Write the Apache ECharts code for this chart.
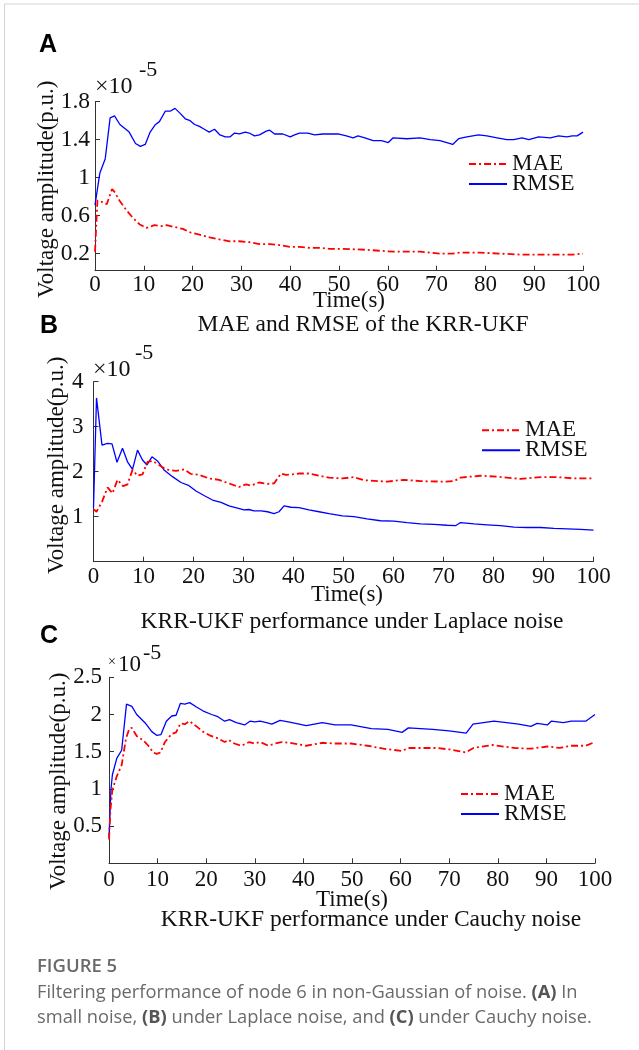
<!DOCTYPE html>
<html><head><meta charset="utf-8">
<script src="https://cdn.jsdelivr.net/npm/echarts@6/dist/echarts.min.js"></script>
<style>html,body{margin:0;padding:0;background:#fff}#c{width:639px;height:1050px}</style>
</head><body><div id="c"></div>
<script>
// ---------- Data (values in units of 1e-5 p.u.) ----------
const xTicks = [0, 100, 10]; // min, max, interval of Time(s)

const tA_RMSE = [0,1.0,2.1,3.1,4.0,5.1,7.0,8.3,9.3,10.3,11.3,12.4,13.2,14.4,15.4,16.4,17.4,18.5,19.5,20.4,21.4,22.4,23.4,24.5,25.6,26.7,27.7,28.6,29.6,30.8,31.6,32.7,33.7,35.1,35.8,36.8,38.5,40.0,40.9,41.9,43.6,45.0,46.7,48.1,49.8,51.5,52.9,53.9,55.3,57.0,58.7,60.1,61.1,63.9,66.6,68.7,70.7,72.1,73.3,74.5,76.2,78.6,80.3,82.4,84.4,85.8,87.5,88.9,90.9,93.3,95.0,96.7,97.8,98.8,100];
const vA_RMSE = [0.71,1.05,1.20,1.63,1.65,1.56,1.48,1.36,1.33,1.35,1.48,1.56,1.59,1.70,1.70,1.73,1.68,1.62,1.60,1.56,1.54,1.51,1.48,1.51,1.45,1.43,1.43,1.47,1.46,1.48,1.47,1.44,1.45,1.49,1.50,1.46,1.46,1.43,1.45,1.47,1.47,1.45,1.46,1.46,1.46,1.44,1.42,1.44,1.42,1.39,1.39,1.37,1.42,1.41,1.42,1.40,1.39,1.37,1.35,1.41,1.43,1.45,1.44,1.42,1.40,1.40,1.42,1.40,1.43,1.42,1.44,1.43,1.44,1.44,1.48];
const tA_MAE = [0,0.5,1.2,2.4,3.5,4.0,5.0,6.4,7.7,9.1,10.5,12.2,13.7,14.7,16.3,18.0,19.7,21.4,23.5,25.5,27.6,29.6,31.7,33.7,35.8,37.8,39.9,41.9,44.0,46.0,48.1,50.8,55.7,61.1,66.6,70.7,73.1,74.8,78.9,83.0,87.1,91.2,95.3,98.0,100];
const vA_MAE = [0.22,0.76,0.75,0.72,0.88,0.85,0.76,0.66,0.58,0.51,0.47,0.50,0.49,0.50,0.48,0.46,0.42,0.40,0.37,0.35,0.33,0.33,0.32,0.30,0.30,0.29,0.27,0.27,0.26,0.26,0.25,0.25,0.24,0.22,0.22,0.20,0.20,0.21,0.21,0.20,0.19,0.19,0.19,0.19,0.20];

const tB_RMSE = [0,0.6,1.7,2.8,3.7,4.7,5.8,6.8,7.8,8.8,9.8,10.7,11.7,12.8,14.1,15.8,17.5,19.1,20.5,22.1,23.8,25.5,27.1,28.8,30.1,31.1,32.1,33.5,34.8,36.1,37.1,38.1,39.5,41.1,43.1,45.1,47.1,49.8,52.1,54.7,57.4,60.1,62.7,65.4,68.1,70.7,72.4,73.4,76.1,78.7,81.4,84.1,86.7,89.4,92.1,94.7,97.4,100];
const vB_RMSE = [1.2,3.64,2.59,2.63,2.62,2.21,2.52,2.22,2.05,2.48,2.26,2.15,2.33,2.24,2.04,1.89,1.76,1.69,1.57,1.47,1.37,1.32,1.24,1.19,1.15,1.16,1.13,1.13,1.11,1.07,1.11,1.24,1.21,1.20,1.15,1.11,1.07,1.02,1.00,0.95,0.91,0.90,0.87,0.84,0.83,0.81,0.80,0.87,0.84,0.82,0.80,0.77,0.76,0.76,0.74,0.73,0.72,0.70];
const tB_MAE = [0,0.6,1.7,2.8,3.8,4.8,5.9,6.8,7.8,8.8,9.8,10.8,11.8,13.1,14.5,16.5,18.1,19.5,21.1,23.1,25.1,27.1,29.1,30.5,31.5,33.1,34.8,36.1,37.5,38.5,39.8,41.1,43.1,45.1,47.1,49.8,52.1,54.1,58.7,62.1,65.4,70.1,72.1,73.4,77.4,80.7,85.4,89.4,92.7,96.1,100];
const vB_MAE = [1.17,1.11,1.33,1.65,1.52,1.82,1.68,1.72,2.04,1.91,1.94,2.22,2.24,2.15,2.05,2.02,2.05,1.95,1.93,1.85,1.82,1.74,1.66,1.72,1.69,1.76,1.73,1.74,1.96,1.93,1.94,1.96,1.96,1.91,1.87,1.85,1.88,1.81,1.78,1.82,1.79,1.78,1.79,1.87,1.91,1.89,1.84,1.88,1.88,1.85,1.85];

const tC_RMSE = [0,0.4,0.7,1.6,2.6,3.6,4.7,5.7,7.4,8.8,9.8,10.7,11.8,12.9,13.8,14.7,15.6,16.6,18.0,19.3,21.1,22.4,23.8,24.8,26.2,27.9,29.0,30.0,31.1,32.4,33.5,35.2,36.9,40.6,43.9,46.5,49.8,54.0,57.4,60.3,61.6,66.6,70.0,73.5,74.9,79.2,84.3,86.8,88.1,90.2,91.0,93.5,95.1,98.1,100];
const vC_RMSE = [0.35,0.99,1.19,1.41,1.52,2.14,2.11,2.00,1.89,1.77,1.72,1.73,1.91,1.98,1.99,2.15,2.14,2.16,2.10,2.05,2.00,1.97,1.91,1.93,1.89,1.86,1.91,1.90,1.91,1.89,1.87,1.92,1.90,1.85,1.89,1.86,1.86,1.81,1.80,1.76,1.82,1.80,1.78,1.75,1.87,1.91,1.87,1.84,1.88,1.86,1.91,1.89,1.91,1.91,2.00];
const tC_MAE = [0,0.3,0.7,1.6,2.6,3.5,4.2,4.7,5.7,7.1,8.1,9.1,9.8,10.6,11.5,12.9,13.8,14.7,15.6,16.6,18.0,19.3,20.7,22.4,23.8,24.6,25.8,27.2,28.9,29.9,31.1,32.8,34.2,35.5,37.1,40.6,43.9,46.5,49.8,53.2,56.5,60.3,61.6,67.5,70.0,73.4,75.0,78.8,83.4,86.8,90.2,92.7,95.1,98.1,100];
const vC_MAE = [0.32,0.72,0.99,1.17,1.32,1.68,1.81,1.82,1.71,1.65,1.58,1.49,1.47,1.49,1.63,1.74,1.76,1.88,1.87,1.91,1.84,1.77,1.72,1.68,1.63,1.66,1.61,1.58,1.63,1.61,1.63,1.58,1.61,1.63,1.62,1.58,1.62,1.61,1.61,1.58,1.54,1.51,1.55,1.55,1.53,1.49,1.55,1.59,1.55,1.54,1.57,1.55,1.58,1.58,1.63];

const yTicksA = [0.2, 0.6, 1, 1.4, 1.8];
const yTicksB = [1, 2, 3, 4];
const yTicksC = [0.5, 1, 1.5, 2, 2.5];
const yRangeA = [0.02, 1.8];
const yRangeB = [0, 4];
const yRangeC = [0, 2.5];

const seriesNames = ['MAE', 'RMSE'];
const panelTitles = ['MAE and RMSE of the KRR-UKF', 'KRR-UKF performance under Laplace noise', 'KRR-UKF performance under Cauchy noise'];
const panelLetters = ['A', 'B', 'C'];
const yName = 'Voltage amplitude(p.u.)';
const xName = 'Time(s)';

// ---------- Build ----------
const zip = (t, v) => t.map((x, i) => [x, v[i]]);
const SERIF = 'Liberation Serif';
const axisCol = '#333';

const grids = [
  {left: 95, top: 101.7, width: 488, height: 169},
  {left: 93.5, top: 381.7, width: 500, height: 180},
  {left: 109, top: 677.3, width: 486, height: 186}
];
const yTicks = [yTicksA, yTicksB, yTicksC];
const yRanges = [yRangeA, yRangeB, yRangeC];
const yNameGap = [37, 25.5, 38.5];
const yNamePad = [[0,6,0,0], [0,0,0,13], [0,22,0,0]];
const xNameGap = [19, 22, 25];
const xNamePad = [[0,0,0,20], [0,0,0,7], [0,0,0,0]];
const yLabelMargin = [5, 10, 7];
const yLabelSize = [23.5, 23, 23];
const xLabelMargin = [3, 4, 5];

const xAxes = grids.map((g, i) => ({
  type: 'value', gridIndex: i, min: xTicks[0], max: xTicks[1], interval: xTicks[2],
  axisLine: {show: true, lineStyle: {color: axisCol, width: 1}},
  axisTick: {show: true, inside: true, length: 5, lineStyle: {color: axisCol}},
  axisLabel: {fontFamily: SERIF, fontSize: 23, color: '#111', margin: xLabelMargin[i]},
  splitLine: {show: false},
  name: xName, nameLocation: 'middle', nameGap: xNameGap[i], nameMoveOverlap: false,
  nameTextStyle: {fontFamily: SERIF, fontSize: 23, color: '#111', padding: xNamePad[i]}
}));
const yAxes = grids.map((g, i) => ({
  type: 'value', gridIndex: i, min: yRanges[i][0], max: yRanges[i][1],
  axisLine: {show: true, lineStyle: {color: axisCol, width: 1}},
  axisTick: {show: true, inside: true, length: 5, lineStyle: {color: axisCol}, customValues: yTicks[i]},
  axisLabel: {fontFamily: SERIF, fontSize: yLabelSize[i], color: '#111', margin: yLabelMargin[i], customValues: yTicks[i]},
  splitLine: {show: false},
  name: yName, nameLocation: 'middle', nameGap: yNameGap[i], nameRotate: 90, nameMoveOverlap: false,
  nameTextStyle: {fontFamily: SERIF, fontSize: 23, color: '#111', padding: yNamePad[i]}
}));

const maeStyle = {color: '#ff0000', width: 1.8, type: [7, 3, 2, 3]};
const rmseStyle = {color: '#0000ff', width: 1.3, type: 'solid'};
const panels = [
  [zip(tA_MAE, vA_MAE), zip(tA_RMSE, vA_RMSE)],
  [zip(tB_MAE, vB_MAE), zip(tB_RMSE, vB_RMSE)],
  [zip(tC_MAE, vC_MAE), zip(tC_RMSE, vC_RMSE)]
];
const series = [];
panels.forEach((p, i) => {
  series.push({name: seriesNames[0], type: 'line', xAxisIndex: i, yAxisIndex: i, data: p[0], symbol: 'none',
    lineStyle: maeStyle, itemStyle: {color: '#ff0000'}, z: 3});
  series.push({name: seriesNames[1], type: 'line', xAxisIndex: i, yAxisIndex: i, data: p[1], symbol: 'none',
    lineStyle: rmseStyle, itemStyle: {color: '#0000ff'}, z: 2});
});

const legendPos = [{left: 463, top: 147.4}, {left: 476, top: 413.7}, {left: 455, top: 777.4}];
const legends = legendPos.map(p => ({
  left: p.left, top: p.top, orient: 'vertical', data: seriesNames,
  itemWidth: 38, itemHeight: 12, itemGap: -3, selectedMode: false,
  itemStyle: {opacity: 0},
  textStyle: {fontFamily: SERIF, fontSize: 23, color: '#111'}
}));

const graphic = [
  {type: 'line', shape: {x1: 4, y1: 4, x2: 639, y2: 4}, style: {stroke: '#d4d4d4', lineWidth: 1}},
  {type: 'line', shape: {x1: 4.5, y1: 4, x2: 4.5, y2: 1050}, style: {stroke: '#d4d4d4', lineWidth: 1}}
];
const letterPos = [[39, 45.5], [40, 327], [40, 636.5]];
letterPos.forEach((p, i) => graphic.push({type: 'text', left: p[0], top: p[1] - 13,
  style: {text: panelLetters[i], font: 'bold 25px "Liberation Sans"', fill: '#000'}}));
const titlePos = [[363, 325], [352, 621.7], [371, 920]];
titlePos.forEach((p, i) => graphic.push({type: 'text', x: p[0], y: p[1],
  style: {text: panelTitles[i], font: '23.5px "Liberation Serif"', fill: '#111', align: 'center', verticalAlign: 'middle'}}));
// exponent labels
const expPos = [
  {x10: [95, 87], e: [139, 70], small: false},
  {x10: [93, 370], e: [135, 353], small: false},
  {x10: [108, 665], e: [143, 653], small: true}
];
expPos.forEach(p => {
  if (p.small) {
    graphic.push({type: 'text', x: p.x10[0], y: p.x10[1] - 3, style: {text: '\u00d7', font: '14px "Liberation Serif"', fill: '#111', verticalAlign: 'middle'}});
    graphic.push({type: 'text', x: p.x10[0] + 10, y: p.x10[1], style: {text: '10', font: '23px "Liberation Serif"', fill: '#111', verticalAlign: 'middle'}});
  } else {
    graphic.push({type: 'text', x: p.x10[0], y: p.x10[1], style: {text: '\u00d710', font: '24px "Liberation Serif"', fill: '#111', verticalAlign: 'middle'}});
  }
  graphic.push({type: 'text', x: p.e[0], y: p.e[1], style: {text: '-5', font: '22px "Liberation Serif"', fill: '#111', verticalAlign: 'middle'}});
});
// caption
graphic.push({type: 'text', x: 37, y: 967, style: {text: 'FIGURE 5', font: '600 18.5px "Open Sans"', fill: '#6a6a6a', verticalAlign: 'middle'}});
const capRich = {b: {fontFamily: 'Open Sans', fontWeight: 'bold', fontSize: 18.3, fill: '#555', color: '#555'}};
graphic.push({type: 'text', x: 37, y: 993, style: {text: 'Filtering performance of node 6 in non-Gaussian of noise. {b|(A)} In',
  fontFamily: 'Open Sans', fontSize: 18.3, fill: '#6a6a6a', verticalAlign: 'middle', rich: capRich}});
graphic.push({type: 'text', x: 37, y: 1018, style: {text: 'small noise, {b|(B)} under Laplace noise, and {b|(C)} under Cauchy noise.',
  fontFamily: 'Open Sans', fontSize: 18.3, fill: '#6a6a6a', verticalAlign: 'middle', rich: capRich}});

const chart = echarts.init(document.getElementById('c'), null, {renderer: 'canvas'});
chart.setOption({
  animation: false,
  backgroundColor: '#fff',
  grid: grids,
  xAxis: xAxes,
  yAxis: yAxes,
  legend: legends,
  series: series,
  graphic: graphic
});
</script></body></html>
